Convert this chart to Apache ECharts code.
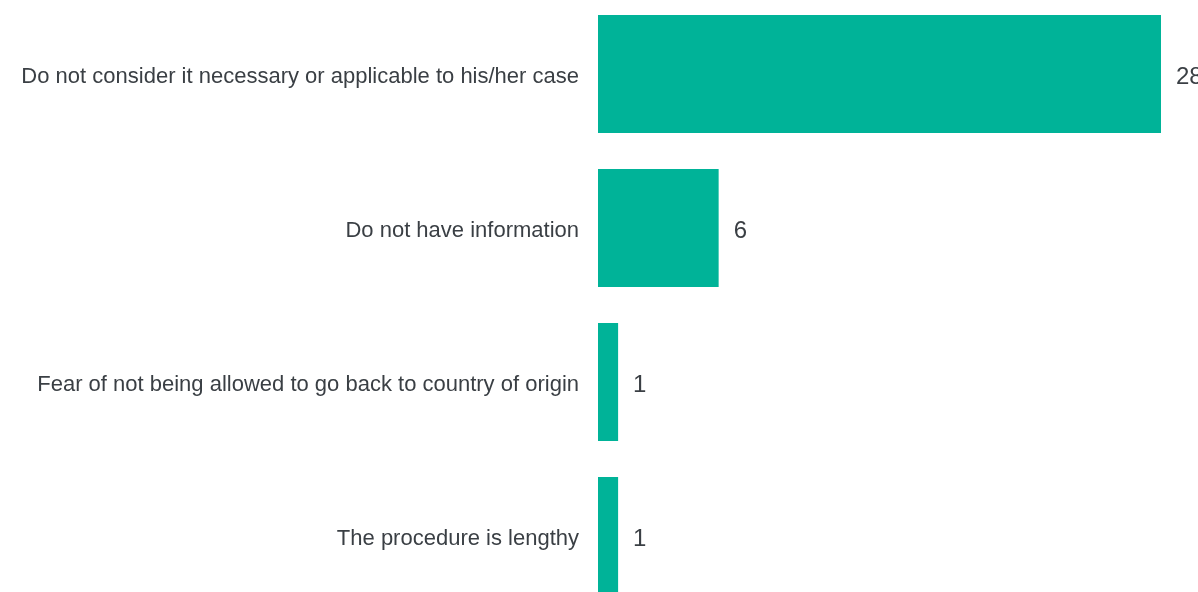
<!DOCTYPE html>
<html>
<head>
<meta charset="utf-8">
<style>
  html, body { margin: 0; padding: 0; background: #fff; overflow: hidden; }
  /* the original is clipped at the bottom: plot a bit taller than the window */
  #chart { width: 1198px; height: 616px; margin-top: -3px; }
</style>
<script src="https://cdn.jsdelivr.net/npm/echarts@6/dist/echarts.min.js"></script>
</head>
<body>
<div id="chart"></div>
<script>
// categories from top to bottom
const categories = [
  'Do not consider it necessary or applicable to his/her case',
  'Do not have information',
  'Fear of not being allowed to go back to country of origin',
  'The procedure is lengthy'
];
const values = [28, 6, 1, 1];

const chart = echarts.init(document.getElementById('chart'));

chart.setOption({
  backgroundColor: '#ffffff',
  animation: false,
  textStyle: { fontFamily: 'Liberation Sans, Arial, sans-serif' },
  grid: { left: 598, right: 37, top: 0, bottom: 0, containLabel: false },
  xAxis: {
    type: 'value',
    min: 0,
    max: 28,
    show: false
  },
  yAxis: {
    type: 'category',
    data: categories,
    inverse: true,
    axisLine: { show: false },
    axisTick: { show: false },
    axisLabel: {
      margin: 19,
      formatter: v => '{a|' + v + '}',
      rich: {
        // nudge the text down a few px like the original
        a: { fontSize: 22, color: '#3a3f44', padding: [6, 0, 0, 0] }
      }
    }
  },
  series: [{
    type: 'bar',
    data: values,
    barCategoryGap: '23.4%',
    itemStyle: { color: '#00b398' },
    label: {
      show: true,
      position: 'right',
      distance: 15,
      offset: [0, 3],
      fontSize: 24,
      color: '#3a3f44'
    }
  }]
});
</script>
</body>
</html>
